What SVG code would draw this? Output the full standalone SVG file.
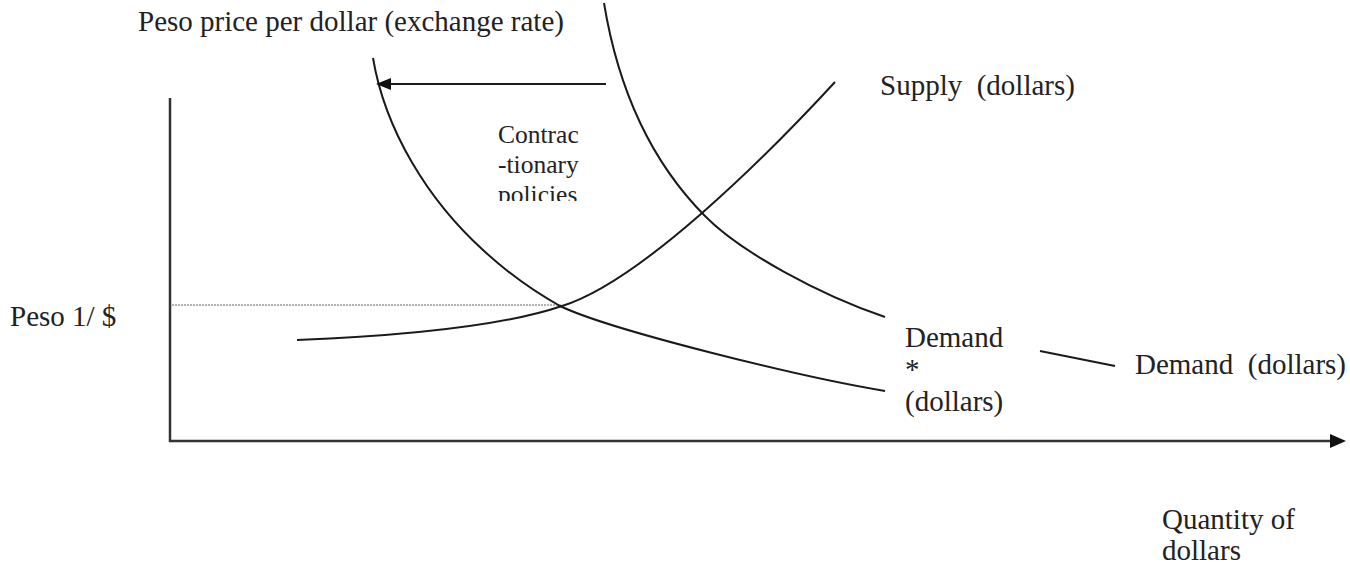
<svg xmlns="http://www.w3.org/2000/svg" width="1350" height="564" viewBox="0 0 1350 564">
<style>
text{font-family:"Liberation Serif","Times New Roman",serif;font-size:29px;fill:#222}
.small{font-size:25.5px}
.curve{fill:none;stroke:#1a1a1a;stroke-width:2}
.axis{fill:none;stroke:#333;stroke-width:2.5}
</style>
<defs>
<clipPath id="clipPol"><rect x="480" y="110" width="150" height="91"/></clipPath>
</defs>
<rect width="1350" height="564" fill="#fff"/>
<g id="axes">
<line class="axis" x1="170" y1="98" x2="170" y2="442"/>
<line class="axis" x1="169" y1="441" x2="1332" y2="441"/>
<polygon points="1346,441 1330,434 1330,448" fill="#111"/>
<line x1="172" y1="305" x2="562" y2="305" stroke="#999" stroke-width="1.5" stroke-dasharray="2,1"/>
</g>
<g id="connectors">
<path id="supply" class="curve" d="M297,340 C400,336 500,327 562,306 C640,282 765,158 835,82"/>
<path id="demand" class="curve" d="M604,3 C615,70 640,150 704,215 C740,252 820,295 885,317"/>
<path id="demand-star" class="curve" d="M373,58 C385,130 428,200 483,250 C510,275 535,292 560,306 C610,330 800,377 885,391"/>
<line class="curve" x1="1040" y1="351" x2="1115" y2="366"/>
<line class="curve" x1="606" y1="84" x2="388" y2="84"/>
<polygon points="376,84 391,78 391,90" fill="#111"/>
</g>
<g id="labels">
<text x="138" y="31">Peso price per dollar (exchange rate)</text>
<text x="880" y="95" xml:space="preserve">Supply  (dollars)</text>
<g clip-path="url(#clipPol)">
<text class="small" x="498" y="143">Contrac</text>
<text class="small" x="498" y="173">-tionary</text>
<text class="small" x="498" y="203">policies</text>
</g>
<text x="10" y="326">Peso 1/ $</text>
<text x="905" y="347">Demand</text>
<text x="905" y="379">*</text>
<text x="905" y="411">(dollars)</text>
<text x="1135" y="374" xml:space="preserve">Demand  (dollars)</text>
<text x="1162" y="529">Quantity of</text>
<text x="1162" y="560">dollars</text>
</g>
</svg>
